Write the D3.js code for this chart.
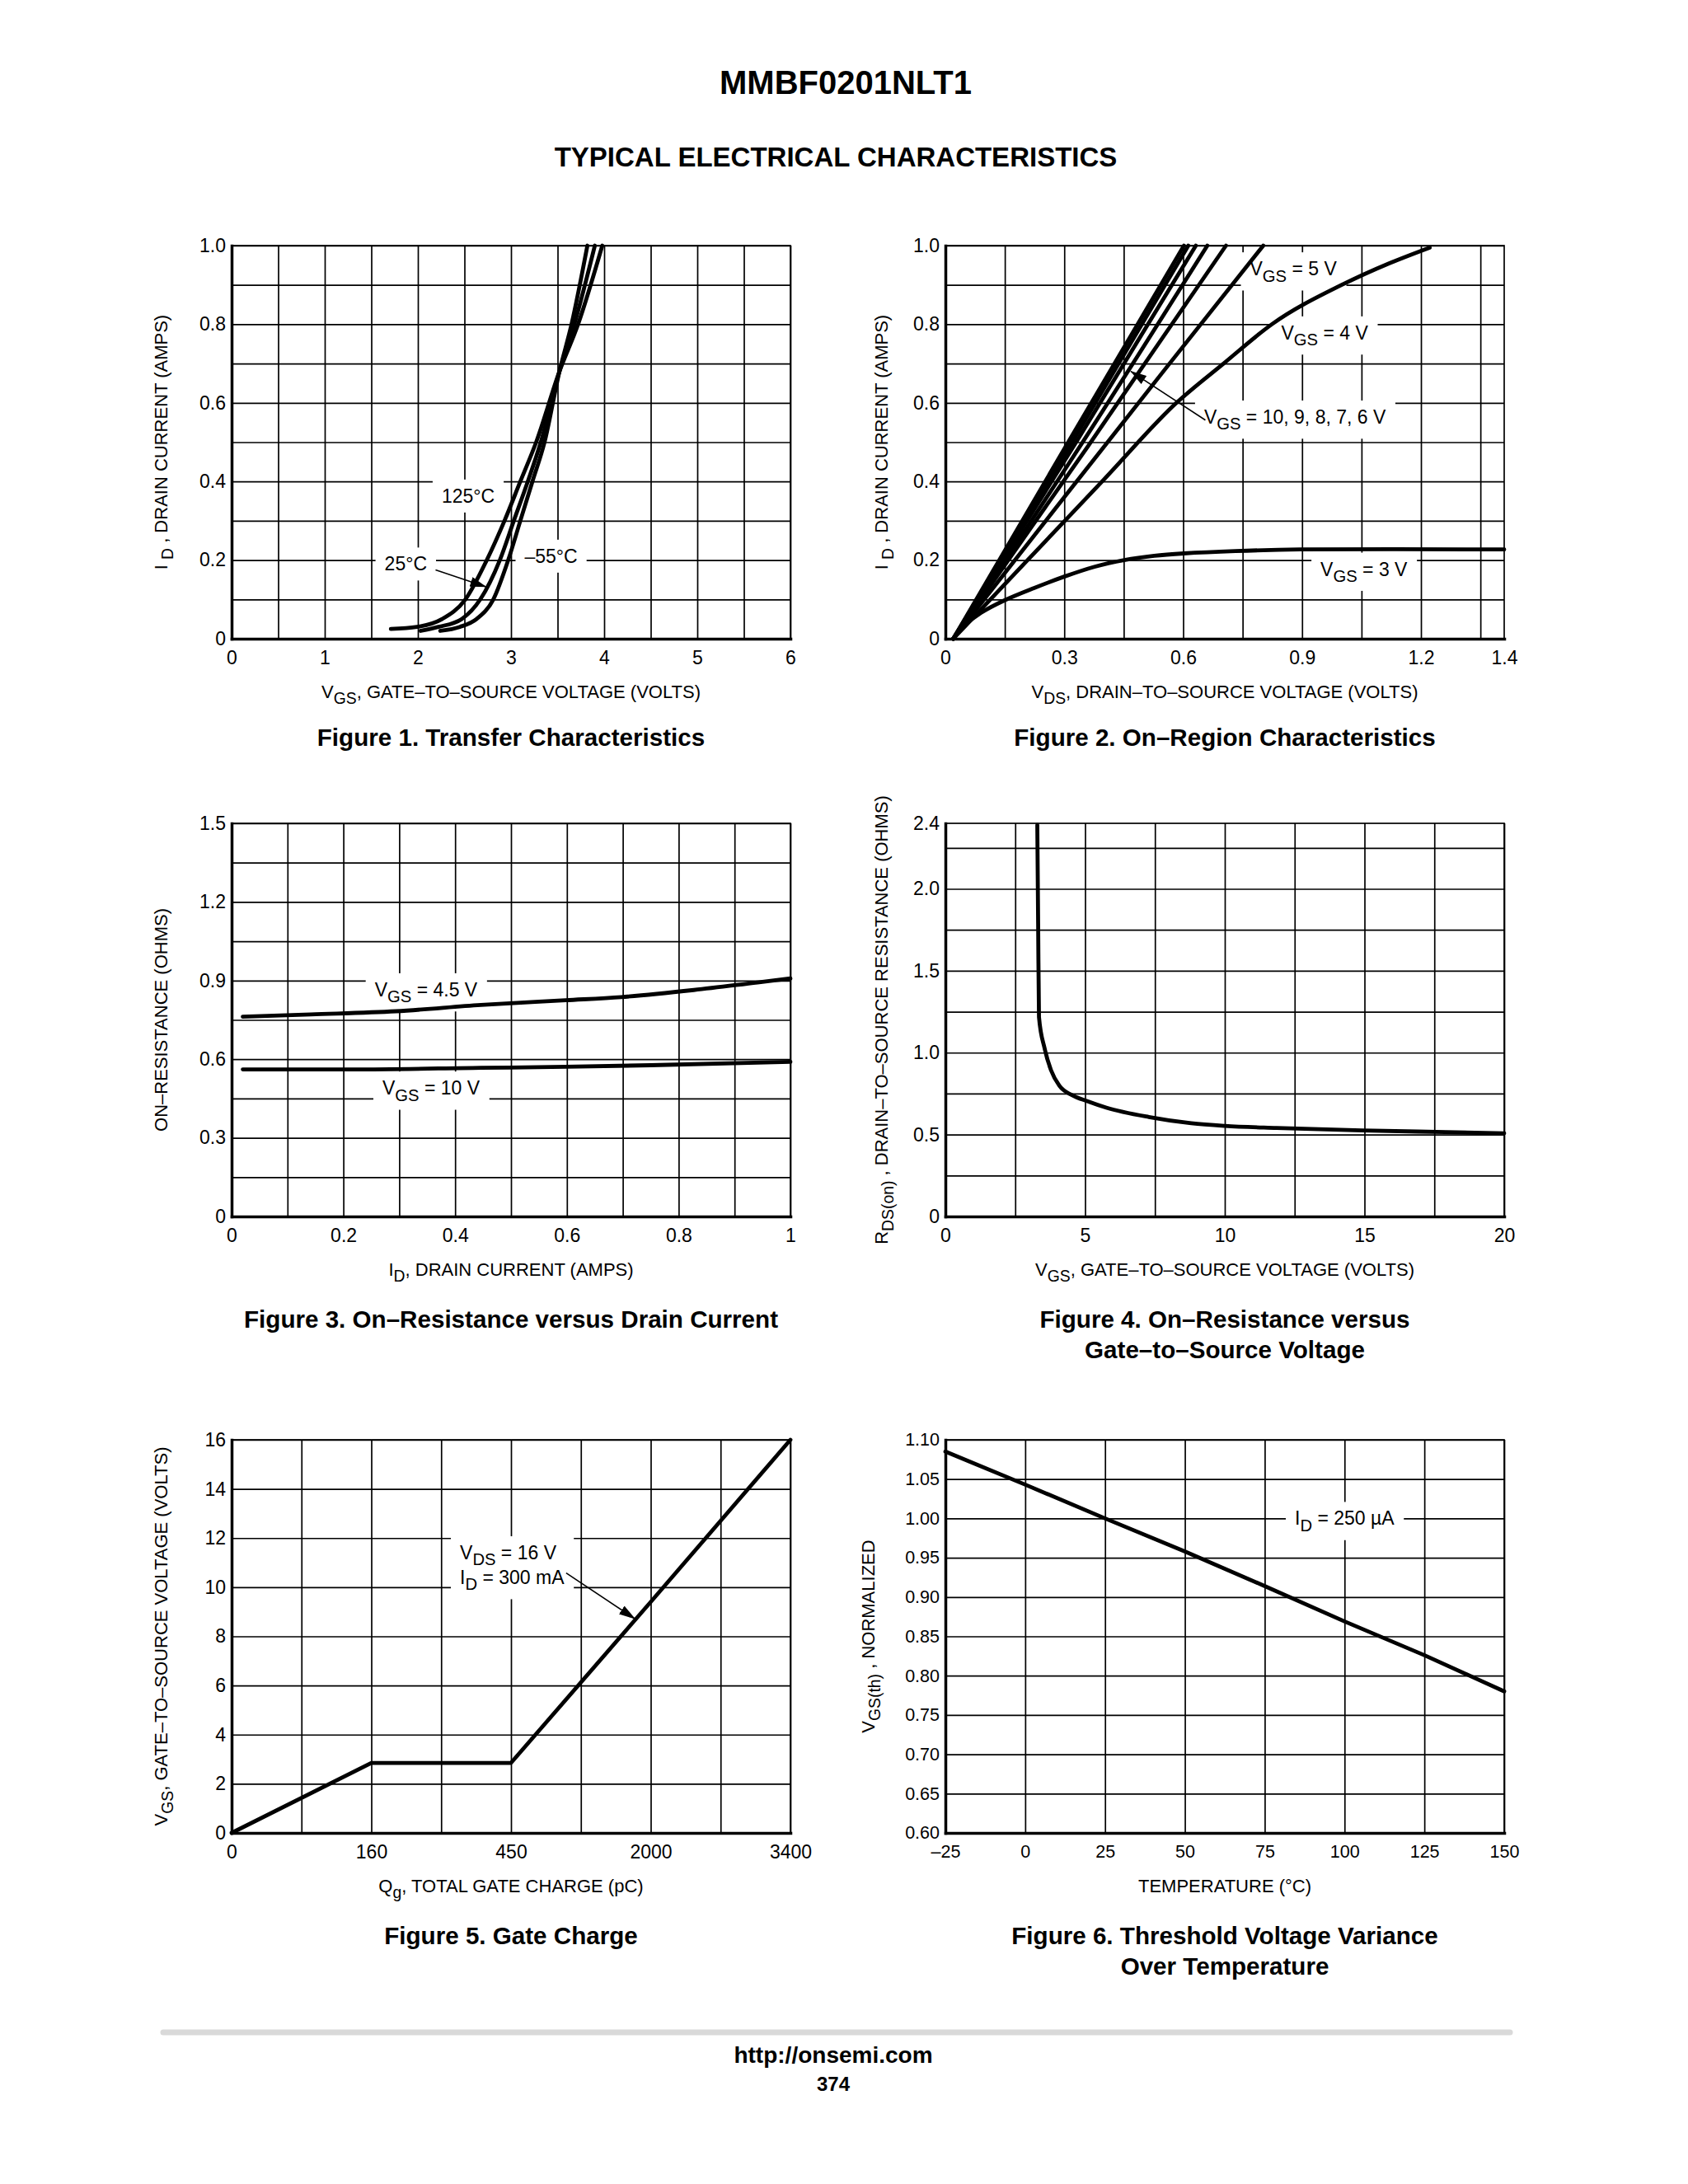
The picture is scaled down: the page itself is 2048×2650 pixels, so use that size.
<!DOCTYPE html>
<html>
<head>
<meta charset="utf-8">
<script src="https://cdn.jsdelivr.net/npm/d3@7"></script>
<style>
body { margin: 0; background: #fff; }
</style>
</head>
<body>
<svg id="page" width="2048" height="2650"></svg>
<script>
// ---- Figure 1: transfer characteristics (VGS volts, ID amps)
const fig1Curve125 = [[1.71,0.025],[1.99,0.03],[2.26,0.05],[2.51,0.1],[2.74,0.2],[2.93,0.3],[3.10,0.4],[3.27,0.5],[3.52,0.68],[3.72,0.8],[3.98,1.0]];
const fig1Curve25 = [[2.03,0.02],[2.22,0.03],[2.47,0.05],[2.67,0.1],[2.88,0.2],[3.03,0.3],[3.18,0.4],[3.32,0.5],[3.52,0.68],[3.68,0.8],[3.90,1.0]];
const fig1CurveM55 = [[2.24,0.02],[2.45,0.03],[2.63,0.05],[2.81,0.1],[2.97,0.2],[3.10,0.3],[3.23,0.4],[3.36,0.5],[3.52,0.68],[3.65,0.8],[3.82,1.0]];
const fig1XTicks = [0,1,2,3,4,5,6];
const fig1YTicks = [0,0.2,0.4,0.6,0.8,1.0];
const fig1YLabels = ['0','0.2','0.4','0.6','0.8','1.0'];

// ---- Figure 2: on-region characteristics (VDS volts, ID amps)
const fig2Vgs3 = [[0.02,0],[0.05,0.035],[0.09,0.066],[0.15,0.098],[0.224,0.129],[0.30,0.158],[0.376,0.183],[0.451,0.2],[0.527,0.211],[0.602,0.217],[0.732,0.223],[0.894,0.227],[1.41,0.227]];
const fig2Vgs4 = [[0.02,0],[0.2,0.192],[0.4,0.405],[0.583,0.6],[0.702,0.7],[0.824,0.8],[1.0,0.9],[1.12,0.955],[1.222,0.995]];
const fig2Vgs5 = [[0.02,0],[0.3,0.36],[0.55,0.68],[0.802,1.0]];
const fig2Vgs6 = [[0.02,0],[0.36,0.49],[0.708,1.0]];
const fig2Vgs7 = [[0.02,0],[0.34,0.49],[0.661,1.0]];
const fig2Vgs8 = [[0.02,0],[0.33,0.5],[0.632,1.0]];
const fig2Vgs9 = [[0.02,0],[0.32,0.5],[0.613,1.0]];
const fig2Vgs10 = [[0.02,0],[0.31,0.5],[0.602,1.0]];
const fig2XTicks = [0,0.3,0.6,0.9,1.2,1.41];
const fig2XLabels = ['0','0.3','0.6','0.9','1.2','1.4'];
const fig2YTicks = [0,0.2,0.4,0.6,0.8,1.0];
const fig2YLabels = ['0','0.2','0.4','0.6','0.8','1.0'];

// ---- Figure 3: on-resistance vs drain current
const fig3Vgs45 = [[0.02,0.762],[0.142,0.771],[0.294,0.783],[0.446,0.807],[0.598,0.825],[0.697,0.837],[0.827,0.864],[0.941,0.893],[1.0,0.908]];
const fig3Vgs10 = [[0.02,0.561],[0.218,0.561],[0.446,0.567],[0.598,0.571],[0.75,0.577],[1.0,0.590]];
const fig3XTicks = [0,0.2,0.4,0.6,0.8,1];
const fig3XLabels = ['0','0.2','0.4','0.6','0.8','1'];
const fig3YTicks = [0,0.3,0.6,0.9,1.2,1.5];
const fig3YLabels = ['0','0.3','0.6','0.9','1.2','1.5'];

// ---- Figure 4: on-resistance vs gate-to-source voltage
const fig4Rds = [[3.29,2.39],[3.32,1.79],[3.35,1.218],[3.55,1.027],[3.78,0.893],[4.08,0.798],[4.54,0.74],[5.07,0.704],[5.76,0.664],[7.28,0.607],[8.8,0.569],[10,0.553],[11.85,0.54],[14.9,0.525],[17.9,0.515],[20,0.508]];
const fig4XTicks = [0,5,10,15,20];
const fig4YTicks = [0,0.5,1.0,1.5,2.0,2.4];
const fig4YLabels = ['0','0.5','1.0','1.5','2.0','2.4'];

// ---- Figure 5: gate charge (axis labels are not evenly spaced)
const fig5Qg = [0,160,450,2000,3400];
const fig5Vgs = [0,2.85,2.85,9.4,16];
const fig5XTicks = [0,160,450,2000,3400];
const fig5YTicks = [0,2,4,6,8,10,12,14,16];

// ---- Figure 6: threshold voltage vs temperature
const fig6Temp = [-25,0,25,50,75,100,125,150];
const fig6Vth = [1.085,1.043,1.0,0.958,0.914,0.869,0.826,0.78];
const fig6XTicks = [-25,0,25,50,75,100,125,150];
const fig6XLabels = ['\u201325','0','25','50','75','100','125','150'];
const fig6YTicks = [0.60,0.65,0.70,0.75,0.80,0.85,0.90,0.95,1.00,1.05,1.10];

const SANS = "'Liberation Sans',Arial,sans-serif";
const PW = 678, PH = 477;
const COLS = [281, 1147];
const ROWS = [298, 999, 1747];

const svg = d3.select('#page');
svg.append('rect').attr('width', 2048).attr('height', 2650).attr('fill', '#fff');

const defs = svg.append('defs');
defs.append('marker').attr('id', 'arrow')
    .attr('markerUnits', 'userSpaceOnUse')
    .attr('markerWidth', 20).attr('markerHeight', 12)
    .attr('refX', 19).attr('refY', 6).attr('orient', 'auto')
  .append('path').attr('d', 'M0,0L20,6L0,12Z').attr('fill', '#000');

// text with {subscript} parts
function rich(text, str, size) {
    const parts = str.split(/(\{[^}]*\})/).filter(s => s.length);
    let wasSub = false;
    parts.forEach(p => {
        const isSub = p[0] === '{';
        const t = text.append('tspan').text(isSub ? p.slice(1, -1) : p);
        if (isSub) t.attr('font-size', size * 0.88).attr('dy', size * 0.32);
        else if (wasSub) t.attr('dy', -size * 0.32);
        wasSub = isSub;
    });
    return text;
}

function makePanel(o) {
    const g = svg.append('g').attr('transform', `translate(${o.left},${o.top})`);
    const x = o.x.range(o.xRange || [0, PW]);
    const y = o.y.range([PH, 0]);
    const tickSize = o.tickFont || 23;

    // grid
    g.append('g').attr('class', 'grid').attr('transform', `translate(0,${PH})`)
        .call(d3.axisBottom(x).tickValues(o.xGrid).tickSize(-PH).tickFormat(''));
    g.append('g').attr('class', 'grid')
        .call(d3.axisLeft(y).tickValues(o.yGrid).tickSize(-PW).tickFormat(''));
    g.selectAll('.grid .domain').remove();
    g.selectAll('.grid line').attr('stroke', '#000').attr('stroke-width', 1.7);
    g.append('rect').attr('width', PW).attr('height', PH)
        .attr('fill', 'none').attr('stroke', '#000').attr('stroke-width', 1.7);

    const boxes = g.append('g');
    const lines = g.append('g');
    const notes = g.append('g');

    // labelled axes
    const ax = g.append('g').attr('transform', `translate(0,${PH})`)
        .call(d3.axisBottom(x).tickValues(o.xTicks).tickSize(0).tickSizeOuter(0).tickPadding(15)
            .tickFormat((d, i) => o.xLabels ? o.xLabels[i] : d));
    const ay = g.append('g')
        .call(d3.axisLeft(y).tickValues(o.yTicks).tickSize(0).tickSizeOuter(0).tickPadding(7)
            .tickFormat((d, i) => o.yLabels ? o.yLabels[i] : d));
    [ax, ay].forEach(a => {
        a.attr('font-family', SANS).attr('font-size', tickSize);
        a.select('.domain').attr('stroke', '#000').attr('stroke-width', 3.5).attr('stroke-linecap', 'square');
        a.selectAll('text').attr('fill', '#000');
    });

    // axis titles
    rich(g.append('text').attr('x', PW / 2).attr('y', PH + 72)
        .attr('text-anchor', 'middle').attr('font-family', SANS).attr('font-size', 22), o.xTitle, 22);
    rich(g.append('text').attr('transform', `translate(${o.yTitleX},${PH / 2}) rotate(-90)`)
        .attr('text-anchor', 'middle').attr('font-family', SANS).attr('font-size', 22)
        .attr('dy', 7), o.yTitle, 22);

    // caption
    o.caption.forEach((c, i) => {
        g.append('text').attr('x', PW / 2).attr('y', o.captionY + i * 37)
            .attr('text-anchor', 'middle').attr('font-family', SANS)
            .attr('font-weight', 'bold').attr('font-size', 29.6).text(c);
    });

    const p = { g, x, y, boxes, lines, notes };

    p.curve = function (pts, curve) {
        lines.append('path').datum(pts)
            .attr('fill', 'none').attr('stroke', '#000').attr('stroke-width', 4.8)
            .attr('stroke-linejoin', 'round').attr('stroke-linecap', 'round')
            .attr('d', d3.line().x(d => x(d[0])).y(d => y(d[1])).curve(curve || d3.curveMonotoneX));
    };

    // label(s) with a white box that cuts the grid
    p.note = function (strs, xv, yv, anchor) {
        const texts = strs.map((s, i) => rich(notes.append('text')
            .attr('x', x(xv)).attr('y', y(yv) + 8 + (i - (strs.length - 1) / 2) * 30)
            .attr('text-anchor', anchor || 'middle').attr('font-family', SANS).attr('font-size', 23), s, 23));
        let x0 = Infinity, y0 = Infinity, x1 = -Infinity, y1 = -Infinity;
        texts.forEach(t => {
            const b = t.node().getBBox();
            x0 = Math.min(x0, b.x); y0 = Math.min(y0, b.y);
            x1 = Math.max(x1, b.x + b.width); y1 = Math.max(y1, b.y + b.height);
        });
        boxes.append('rect').attr('x', x0 - 11).attr('y', y0 - 7)
            .attr('width', x1 - x0 + 22).attr('height', y1 - y0 + 14).attr('fill', '#fff');
    };

    p.arrow = function (from, to) {
        notes.append('line')
            .attr('x1', x(from[0])).attr('y1', y(from[1]))
            .attr('x2', x(to[0])).attr('y2', y(to[1]))
            .attr('stroke', '#000').attr('stroke-width', 1.6).attr('marker-end', 'url(#arrow)');
    };
    return p;
}

// page header
svg.append('text').attr('x', 1026).attr('y', 114).attr('text-anchor', 'middle')
    .attr('font-family', SANS).attr('font-weight', 'bold').attr('font-size', 40).text('MMBF0201NLT1');
svg.append('text').attr('x', 1014).attr('y', 202).attr('text-anchor', 'middle')
    .attr('font-family', SANS).attr('font-weight', 'bold').attr('font-size', 33).text('TYPICAL ELECTRICAL CHARACTERISTICS');

// Figure 1
const p1 = makePanel({
    left: COLS[0], top: ROWS[0],
    x: d3.scaleLinear().domain([0, 6]), y: d3.scaleLinear().domain([0, 1]),
    xGrid: d3.range(0, 6.01, 0.5), yGrid: d3.range(0, 1.01, 0.1),
    xTicks: fig1XTicks, yTicks: fig1YTicks, yLabels: fig1YLabels,
    xTitle: 'V{GS}, GATE\u2013TO\u2013SOURCE VOLTAGE (VOLTS)',
    yTitle: 'I {D} , DRAIN CURRENT (AMPS)', yTitleX: -85,
    caption: ['Figure 1. Transfer Characteristics'], captionY: 607
});
p1.curve(fig1Curve125);
p1.curve(fig1Curve25);
p1.curve(fig1CurveM55);
p1.note(['125\u00b0C'], 2.54, 0.363);
p1.note(['25\u00b0C'], 1.87, 0.19);
p1.note(['\u201355\u00b0C'], 3.43, 0.21);
p1.arrow([2.19, 0.175], [2.73, 0.132]);

// Figure 2
const p2 = makePanel({
    left: COLS[1], top: ROWS[0],
    x: d3.scaleLinear().domain([0, 1.41]), y: d3.scaleLinear().domain([0, 1]),
    xGrid: d3.range(0, 1.36, 0.15), yGrid: d3.range(0, 1.01, 0.1),
    xTicks: fig2XTicks, xLabels: fig2XLabels, yTicks: fig2YTicks, yLabels: fig2YLabels,
    xTitle: 'V{DS}, DRAIN\u2013TO\u2013SOURCE VOLTAGE (VOLTS)',
    yTitle: 'I {D} , DRAIN CURRENT (AMPS)', yTitleX: -77,
    caption: ['Figure 2. On\u2013Region Characteristics'], captionY: 607
});
p2.curve(fig2Vgs3, d3.curveCatmullRom);
p2.curve(fig2Vgs4);
[fig2Vgs5, fig2Vgs6, fig2Vgs7, fig2Vgs8, fig2Vgs9, fig2Vgs10].forEach(c => p2.curve(c));
p2.note(['V{GS} = 5 V'], 0.878, 0.941);
p2.note(['V{GS} = 4 V'], 0.957, 0.778);
p2.note(['V{GS} = 10, 9, 8, 7, 6 V'], 0.882, 0.564);
p2.note(['V{GS} = 3 V'], 1.056, 0.177);
p2.arrow([0.656, 0.556], [0.468, 0.68]);

// Figure 3
const p3 = makePanel({
    left: COLS[0], top: ROWS[1],
    x: d3.scaleLinear().domain([0, 1]), y: d3.scaleLinear().domain([0, 1.5]),
    xGrid: d3.range(0, 1.01, 0.1), yGrid: d3.range(0, 1.51, 0.15),
    xTicks: fig3XTicks, xLabels: fig3XLabels, yTicks: fig3YTicks, yLabels: fig3YLabels,
    xTitle: 'I{D}, DRAIN CURRENT (AMPS)',
    yTitle: 'ON\u2013RESISTANCE (OHMS)', yTitleX: -85,
    caption: ['Figure 3. On\u2013Resistance versus Drain Current'], captionY: 612
});
p3.curve(fig3Vgs45);
p3.curve(fig3Vgs10);
p3.note(['V{GS} = 4.5 V'], 0.348, 0.865);
p3.note(['V{GS} = 10 V'], 0.357, 0.49);

// Figure 4
const p4 = makePanel({
    left: COLS[1], top: ROWS[1],
    x: d3.scaleLinear().domain([0, 20]), y: d3.scaleLinear().domain([0, 2.4]),
    xGrid: d3.range(0, 20.1, 2.5), yGrid: d3.range(0, 2.3, 0.25),
    xTicks: fig4XTicks, yTicks: fig4YTicks, yLabels: fig4YLabels,
    xTitle: 'V{GS}, GATE\u2013TO\u2013SOURCE VOLTAGE (VOLTS)',
    yTitle: 'R{DS(on)} , DRAIN\u2013TO\u2013SOURCE RESISTANCE (OHMS)', yTitleX: -77,
    caption: ['Figure 4. On\u2013Resistance versus', 'Gate\u2013to\u2013Source Voltage'], captionY: 612
});
p4.curve(fig4Rds);

// Figure 5: piecewise scale follows the uneven tick labels
const fig5Range = fig5XTicks.map((d, i) => i * PW / 4);
const x5 = d3.scaleLinear().domain(fig5XTicks).range(fig5Range);
const p5 = makePanel({
    left: COLS[0], top: ROWS[2],
    x: d3.scaleLinear().domain(fig5XTicks), xRange: fig5Range, y: d3.scaleLinear().domain([0, 16]),
    xGrid: d3.range(9).map(i => x5.invert(i * PW / 8)), yGrid: fig5YTicks,
    xTicks: fig5XTicks, yTicks: fig5YTicks,
    xTitle: 'Q{g}, TOTAL GATE CHARGE (pC)',
    yTitle: 'V{GS}, GATE\u2013TO\u2013SOURCE VOLTAGE (VOLTS)', yTitleX: -85,
    caption: ['Figure 5. Gate Charge'], captionY: 612
});
p5.curve(d3.zip(fig5Qg, fig5Vgs), d3.curveLinear);
p5.note(['V{DS} = 16 V', 'I{D} = 300 mA'], 344, 10.9, 'start');
p5.arrow([1062, 10.58], [1822, 8.72]);

// Figure 6
const p6 = makePanel({
    left: COLS[1], top: ROWS[2], tickFont: 21.5,
    x: d3.scaleLinear().domain([-25, 150]), y: d3.scaleLinear().domain([0.6, 1.1]),
    xGrid: d3.range(-25, 151, 25), yGrid: d3.range(0.6, 1.101, 0.05),
    xTicks: fig6XTicks, xLabels: fig6XLabels, yTicks: fig6YTicks, yLabels: fig6YTicks.map(d3.format('.2f')),
    xTitle: 'TEMPERATURE (\u00b0C)',
    yTitle: 'V{GS(th)} , NORMALIZED', yTitleX: -93,
    caption: ['Figure 6. Threshold Voltage Variance', 'Over Temperature'], captionY: 612
});
p6.curve(d3.zip(fig6Temp, fig6Vth), d3.curveLinear);
p6.note(['I{D} = 250 \u00b5A'], 100, 1.0);

// footer
svg.append('line').attr('x1', 198).attr('x2', 1832).attr('y1', 2466).attr('y2', 2466)
    .attr('stroke', '#d9d9d9').attr('stroke-width', 7).attr('stroke-linecap', 'round');
svg.append('text').attr('x', 1011).attr('y', 2503).attr('text-anchor', 'middle')
    .attr('font-family', SANS).attr('font-weight', 'bold').attr('font-size', 28).text('http://onsemi.com');
svg.append('text').attr('x', 1011).attr('y', 2537).attr('text-anchor', 'middle')
    .attr('font-family', SANS).attr('font-weight', 'bold').attr('font-size', 24).text('374');
</script>
</body>
</html>
